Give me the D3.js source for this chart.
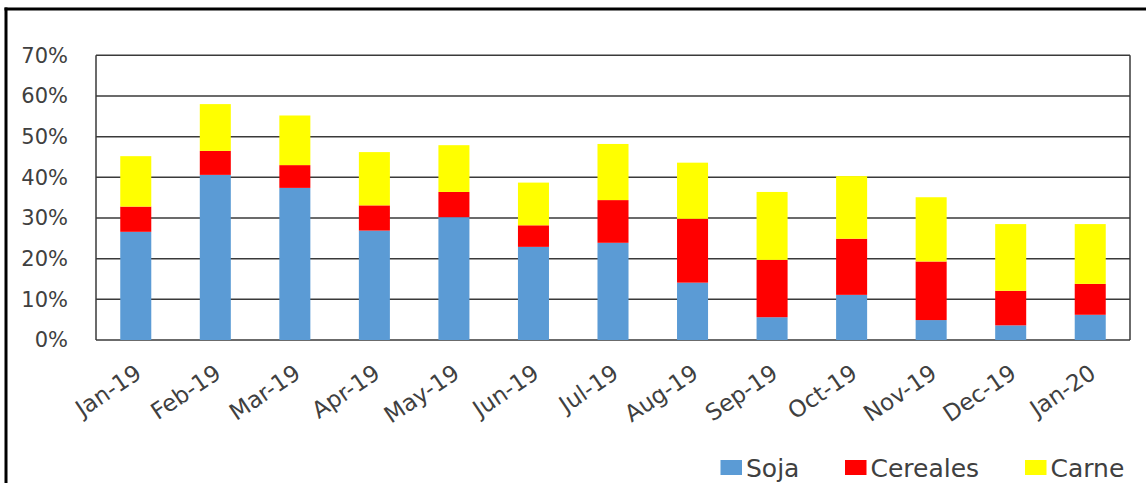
<!DOCTYPE html>
<html>
<head>
<meta charset="utf-8">
<script src="https://cdn.jsdelivr.net/npm/d3@7/dist/d3.min.js"></script>
<style>
  html, body { margin: 0; padding: 0; background: #fff; }
  svg { display: block; }
  text { font-family: "DejaVu Sans", sans-serif; fill: #404040; }
</style>
</head>
<body>
<svg id="chart" width="1146" height="483"></svg>
<script>
const categories = ["Jan-19","Feb-19","Mar-19","Apr-19","May-19","Jun-19","Jul-19","Aug-19","Sep-19","Oct-19","Nov-19","Dec-19","Jan-20"];
const soja     = [26.6, 40.6, 37.4, 26.9, 30.2, 22.9, 23.9, 14.1, 5.6, 11.1, 4.9, 3.6, 6.2];
const cereales = [6.2, 5.9, 5.6, 6.2, 6.2, 5.3, 10.5, 15.7, 14.1, 13.8, 14.4, 8.5, 7.6];
const carne    = [12.4, 11.5, 12.2, 13.1, 11.5, 10.5, 13.8, 13.8, 16.7, 15.4, 15.8, 16.4, 14.7];
const seriesNames = ["Soja", "Cereales", "Carne"];
const seriesColors = ["#5B9BD5", "#FF0000", "#FFFF00"];
const yTicks = [0, 10, 20, 30, 40, 50, 60, 70];

const svg = d3.select("#chart");
const W = 1146, H = 483;
const plot = {left: 96, right: 1130, top: 55.3, bottom: 340};

// outer frame (top and left visible)
svg.append("line").attr("x1", 4.5).attr("x2", W).attr("y1", 9).attr("y2", 9)
  .attr("stroke", "#000").attr("stroke-width", 3);
svg.append("line").attr("x1", 6).attr("x2", 6).attr("y1", 7.5).attr("y2", H)
  .attr("stroke", "#000").attr("stroke-width", 3);

const x = d3.scaleBand().domain(categories).range([plot.left, plot.right])
  .paddingInner(0.61).paddingOuter(0.305);
const y = d3.scaleLinear().domain([0, 70]).range([plot.bottom, plot.top]);

// gridlines
svg.append("g").selectAll("line").data(yTicks).join("line")
  .attr("x1", plot.left).attr("x2", plot.right)
  .attr("y1", d => y(d)).attr("y2", d => y(d))
  .attr("stroke", "#3a3a3a").attr("stroke-width", 1.5);

// stacked data
const rows = categories.map((c, i) => ({cat: c, Soja: soja[i], Cereales: cereales[i], Carne: carne[i]}));
const stack = d3.stack().keys(seriesNames)(rows);

svg.append("g").selectAll("g").data(stack).join("g")
  .attr("fill", (d, i) => seriesColors[i])
  .selectAll("rect").data(d => d).join("rect")
  .attr("x", d => x(d.data.cat))
  .attr("width", x.bandwidth())
  .attr("y", d => y(d[1]))
  .attr("height", d => y(d[0]) - y(d[1]));

// plot border lines (left, right)
svg.append("line").attr("x1", plot.left).attr("x2", plot.left).attr("y1", plot.top).attr("y2", plot.bottom)
  .attr("stroke", "#3a3a3a").attr("stroke-width", 1.5);
svg.append("line").attr("x1", plot.right).attr("x2", plot.right).attr("y1", plot.top).attr("y2", plot.bottom)
  .attr("stroke", "#3a3a3a").attr("stroke-width", 1.5);

// y axis labels
const yAxis = d3.axisLeft(y).tickValues(yTicks).tickFormat(d => d + "%").tickSize(0).tickPadding(0);
const gy = svg.append("g").attr("transform", "translate(68,0)").call(yAxis);
gy.select(".domain").remove();
gy.selectAll("text").attr("font-size", 21).attr("font-family", "DejaVu Sans").attr("fill", "#404040");

// x axis labels
const xAxis = d3.axisBottom(x).tickSize(0).tickPadding(0);
const gx = svg.append("g").call(xAxis);
gx.select(".domain").remove();
gx.selectAll(".tick").attr("transform", d => `translate(${x(d) + x.bandwidth() / 2 - 2},363)`);
gx.selectAll("text")
  .attr("font-size", 23).attr("font-family", "DejaVu Sans").attr("fill", "#404040")
  .attr("text-anchor", "end").attr("y", 0).attr("dy", "0.72em")
  .attr("transform", "rotate(-34)");

// legend
const legendX = [720.5, 845, 1025];
const lg = svg.append("g").selectAll("g").data(seriesNames).join("g")
  .attr("transform", (d, i) => `translate(${legendX[i]},0)`);
lg.append("rect").attr("x", 0).attr("y", 460).attr("width", 21.5).attr("height", 15)
  .attr("fill", (d, i) => seriesColors[i]);
lg.append("text").attr("x", 25.5).attr("y", 476.5).attr("font-size", 25).text(d => d);
</script>
</body>
</html>
